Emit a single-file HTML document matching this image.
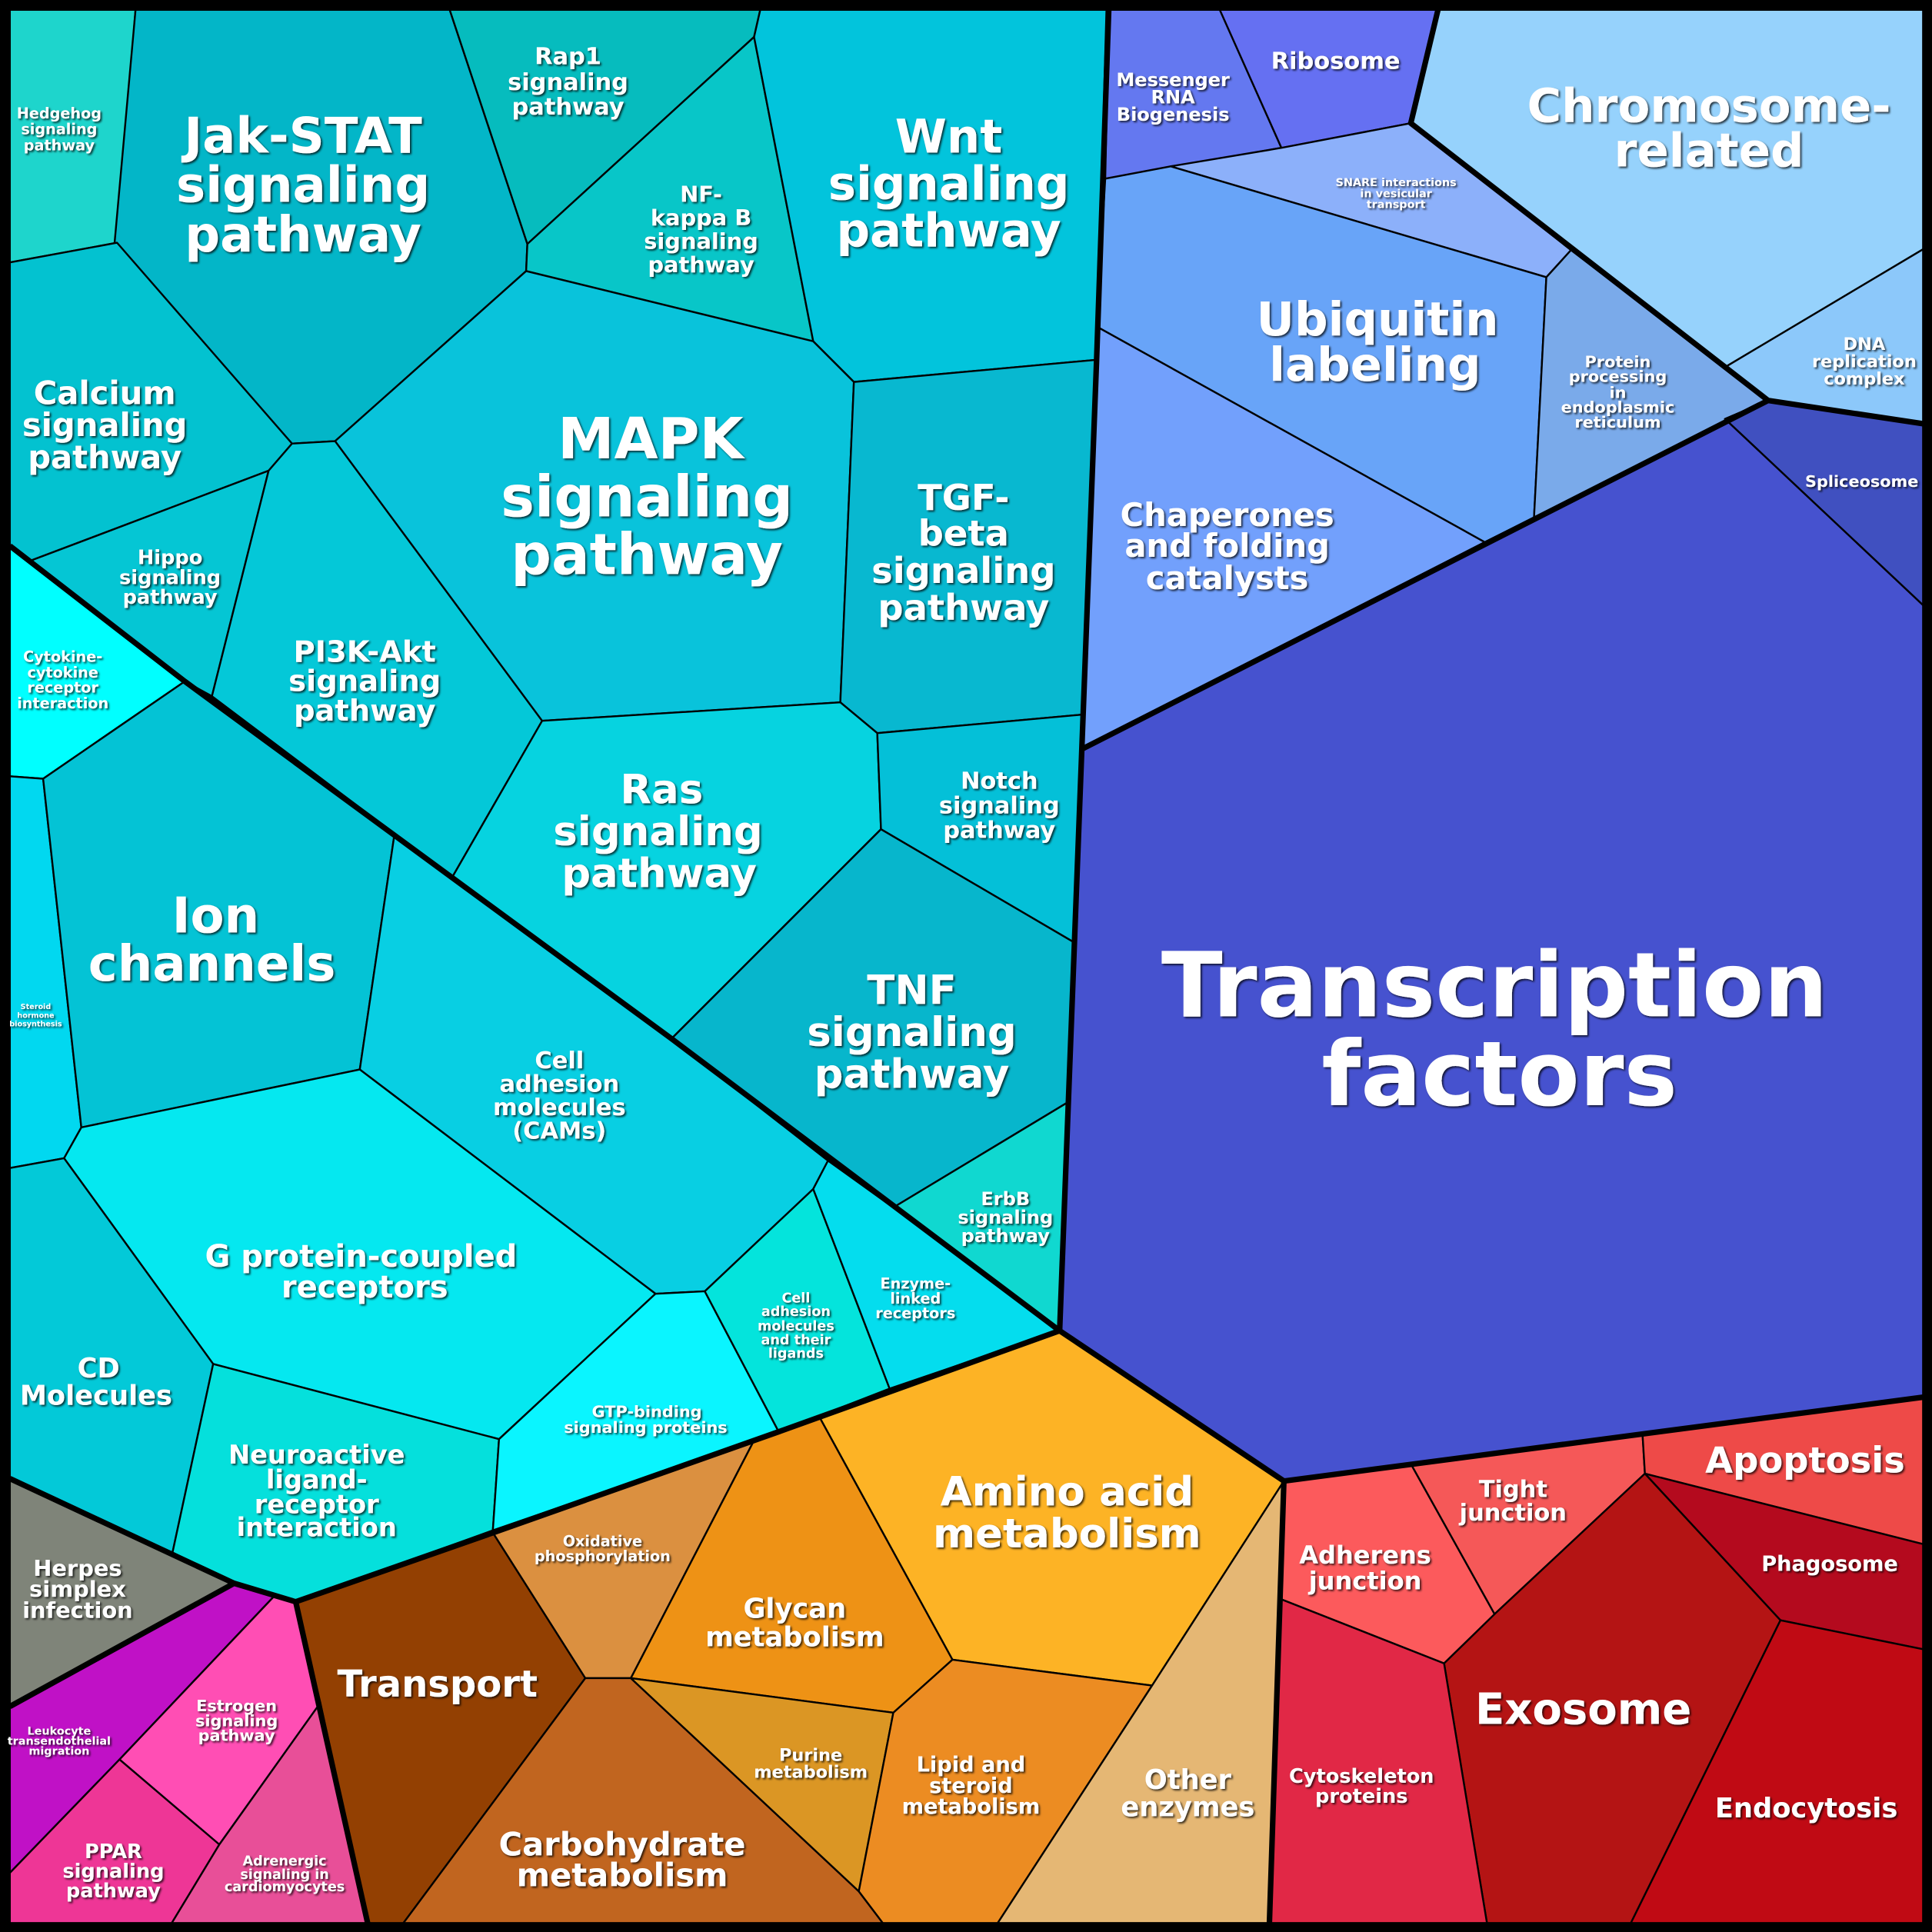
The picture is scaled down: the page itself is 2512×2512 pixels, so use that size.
<!DOCTYPE html>
<html><head><meta charset="utf-8"><style>
html,body{margin:0;padding:0;background:#000;}
svg{display:block;}
text{font-family:"DejaVu Sans","Liberation Sans",sans-serif;font-weight:bold;fill:#fff;text-anchor:middle;}
</style></head><body>
<svg width="2512" height="2512" viewBox="0 0 1568 1568" xmlns="http://www.w3.org/2000/svg">
<defs><filter id="sh" x="-20%" y="-20%" width="140%" height="140%"><feDropShadow dx="1.2" dy="1.2" stdDeviation="0.8" flood-color="#000" flood-opacity="0.75"/></filter></defs>
<rect width="1568" height="1568" fill="#000"/>
<g stroke="#000" stroke-width="1.5" stroke-linejoin="round">
<polygon fill="#1ED5CC" points="8,8 110,8 95,197 8,213"/>
<polygon fill="#03B6C8" points="110,8 365,8 428,198 427,220 272,358 237,360 93,197"/>
<polygon fill="#06BCBE" points="365,8 617,8 612,30 428,198"/>
<polygon fill="#08C6C8" points="612,30 428,198 427,220 660,277"/>
<polygon fill="#02C4DC" points="617,8 898,8 890,292 693,310 660,277 612,30"/>
<polygon fill="#03C2D0" points="8,213 95,197 237,360 218,382 25,455 8,445"/>
<polygon fill="#05C6D4" points="25,455 218,382 172,565 150,553"/>
<polygon fill="#04C8D8" points="218,382 237,360 272,358 440,585 367,712 172,565"/>
<polygon fill="#09C3DB" points="272,358 427,220 660,277 693,310 682,570 440,585"/>
<polygon fill="#08B8D0" points="693,310 890,292 878,580 712,595 682,570"/>
<polygon fill="#06D3E0" points="440,585 682,570 712,595 715,673 545,843 367,712"/>
<polygon fill="#04C0D8" points="712,595 878,580 872,765 715,673"/>
<polygon fill="#07B6CC" points="715,673 872,765 866,895 725,980 545,843"/>
<polygon fill="#10D8D0" points="866,895 860,1080 725,980"/>
<polygon fill="#00FFFF" points="8,443 150,553 35,632 8,630"/>
<polygon fill="#01D8F0" points="8,630 35,632 66,915 52,940 8,948"/>
<polygon fill="#04C3D5" points="35,632 150,553 320,678 292,868 66,915"/>
<polygon fill="#08CFE3" points="320,678 545,843 672,942 660,965 572,1048 532,1050 292,868"/>
<polygon fill="#05E8F0" points="66,915 292,868 532,1050 405,1168 173,1107 52,940"/>
<polygon fill="#03C9D8" points="8,948 52,940 173,1107 140,1260 8,1200"/>
<polygon fill="#05E0DC" points="173,1107 405,1168 400,1242 240,1300 190,1285 140,1260"/>
<polygon fill="#0AF5FF" points="532,1050 572,1048 632,1162 400,1242 405,1168"/>
<polygon fill="#04E4DC" points="572,1048 660,965 722,1127 632,1162"/>
<polygon fill="#04DDEE" points="660,965 672,942 725,980 860,1080 722,1127"/>
<polygon fill="#6478F0" points="900,8 990,8 1040,120 897,145"/>
<polygon fill="#6570F2" points="990,8 1168,8 1145,100 1040,120"/>
<polygon fill="#8CB0FA" points="950,135 1040,120 1145,100 1275,203 1255,225"/>
<polygon fill="#68A4F8" points="897,145 950,135 1255,225 1245,420 1205,440 890,265"/>
<polygon fill="#7AAAEA" points="1255,225 1275,203 1435,325 1245,420"/>
<polygon fill="#72A0FC" points="890,265 1205,440 878,608"/>
<polygon fill="#96D2FC" points="1168,8 1568,8 1568,198 1400,298 1145,100"/>
<polygon fill="#8CC8FA" points="1400,298 1568,198 1568,345 1435,325"/>
<polygon fill="#4050C0" points="1400,340 1435,325 1568,345 1568,498"/>
<polygon fill="#4652CF" points="878,608 1205,440 1245,420 1435,325 1400,340 1568,498 1568,1133 1333,1163 1145,1188 1042,1202 860,1080"/>
<polygon fill="#FDB325" points="860,1080 1042,1202 935,1368 773,1347 665,1150"/>
<polygon fill="#DB9040" points="400,1244 612,1169 512,1362 475,1362"/>
<polygon fill="#EE9215" points="612,1169 665,1150 773,1347 725,1390 512,1362"/>
<polygon fill="#934002" points="240,1300 400,1244 475,1362 322,1568 300,1568"/>
<polygon fill="#C1651F" points="475,1362 512,1362 697,1535 722,1568 322,1568"/>
<polygon fill="#DB9624" points="512,1362 725,1390 697,1535"/>
<polygon fill="#EC8C22" points="725,1390 773,1347 935,1368 805,1568 722,1568 697,1535"/>
<polygon fill="#E5B774" points="935,1368 1042,1202 1030,1568 805,1568"/>
<polygon fill="#FC5A5C" points="1042,1202 1145,1188 1213,1310 1172,1350 1040,1298"/>
<polygon fill="#F55858" points="1145,1188 1333,1163 1335,1196 1213,1310"/>
<polygon fill="#EE4A48" points="1333,1163 1568,1133 1568,1255 1335,1196"/>
<polygon fill="#B40A1E" points="1335,1196 1568,1255 1568,1340 1445,1315"/>
<polygon fill="#B41414" points="1213,1310 1335,1196 1445,1315 1320,1568 1208,1568 1172,1350"/>
<polygon fill="#E12846" points="1040,1298 1172,1350 1208,1568 1030,1568"/>
<polygon fill="#C00A14" points="1445,1315 1568,1340 1568,1568 1320,1568"/>
<polygon fill="#7F8479" points="8,1200 190,1285 8,1385"/>
<polygon fill="#C011C6" points="8,1385 190,1285 222,1296 97,1428 8,1520"/>
<polygon fill="#FF4EB4" points="222,1296 240,1300 260,1382 178,1497 97,1428"/>
<polygon fill="#EE3696" points="8,1520 97,1428 178,1497 135,1568 8,1568"/>
<polygon fill="#E84F98" points="178,1497 260,1382 300,1568 135,1568"/>
</g>
<g stroke="#000" stroke-width="4.5" fill="none" stroke-linejoin="round">
<polyline points="900,4 890,292 878,608 860,1080"/>
<polyline points="8,443 150,553 545,843 860,1080"/>
<polyline points="860,1080 632,1162 400,1244 240,1300 190,1285 8,1200"/>
<polyline points="860,1080 1042,1202 1030,1568"/>
<polyline points="1042,1202 1568,1133"/>
<polyline points="240,1300 300,1568"/>
<polyline points="190,1285 8,1385"/>
<polyline points="1168,4 1145,100 1435,325 1568,345"/>
<polyline points="878,608 1435,325"/>
<rect x="4" y="4" width="1560" height="1560" stroke-width="8"/>
</g>
<g filter="url(#sh)">
<text font-size="12"><tspan x="48" y="96">Hedgehog</tspan><tspan x="48" y="109">signaling</tspan><tspan x="48" y="122">pathway</tspan></text>
<text font-size="40"><tspan x="246" y="124">Jak-STAT</tspan><tspan x="246" y="164">signaling</tspan><tspan x="246" y="204">pathway</tspan></text>
<text font-size="19"><tspan x="461" y="52">Rap1</tspan><tspan x="461" y="73">signaling</tspan><tspan x="461" y="93">pathway</tspan></text>
<text font-size="18"><tspan x="569" y="164">NF-</tspan><tspan x="569" y="183">kappa B</tspan><tspan x="569" y="202">signaling</tspan><tspan x="569" y="221">pathway</tspan></text>
<text font-size="38"><tspan x="770" y="124">Wnt</tspan><tspan x="770" y="162">signaling</tspan><tspan x="770" y="200">pathway</tspan></text>
<text font-size="26"><tspan x="85" y="328">Calcium</tspan><tspan x="85" y="354">signaling</tspan><tspan x="85" y="380">pathway</tspan></text>
<text font-size="16"><tspan x="138" y="458">Hippo</tspan><tspan x="138" y="474">signaling</tspan><tspan x="138" y="490">pathway</tspan></text>
<text font-size="24"><tspan x="296" y="537">PI3K-Akt</tspan><tspan x="296" y="561">signaling</tspan><tspan x="296" y="585">pathway</tspan></text>
<text font-size="46"><tspan x="528" y="372">MAPK</tspan><tspan x="525" y="419">signaling</tspan><tspan x="525" y="466">pathway</tspan></text>
<text font-size="29"><tspan x="782" y="414">TGF-</tspan><tspan x="782" y="443">beta</tspan><tspan x="782" y="473">signaling</tspan><tspan x="782" y="503">pathway</tspan></text>
<text font-size="33"><tspan x="537" y="652">Ras</tspan><tspan x="534" y="686">signaling</tspan><tspan x="535" y="720">pathway</tspan></text>
<text font-size="19"><tspan x="811" y="640">Notch</tspan><tspan x="811" y="660">signaling</tspan><tspan x="811" y="680">pathway</tspan></text>
<text font-size="33"><tspan x="740" y="815">TNF</tspan><tspan x="740" y="849">signaling</tspan><tspan x="740" y="883">pathway</tspan></text>
<text font-size="15"><tspan x="816" y="978">ErbB</tspan><tspan x="816" y="993">signaling</tspan><tspan x="816" y="1008">pathway</tspan></text>
<text font-size="12"><tspan x="51" y="537">Cytokine-</tspan><tspan x="51" y="550">cytokine</tspan><tspan x="51" y="562">receptor</tspan><tspan x="51" y="575">interaction</tspan></text>
<text font-size="6"><tspan x="29" y="819">Steroid</tspan><tspan x="29" y="826">hormone</tspan><tspan x="29" y="833">biosynthesis</tspan></text>
<text font-size="40"><tspan x="175" y="757">Ion</tspan><tspan x="172" y="796">channels</tspan></text>
<text font-size="19"><tspan x="454" y="867">Cell</tspan><tspan x="454" y="886">adhesion</tspan><tspan x="454" y="905">molecules</tspan><tspan x="454" y="924">(CAMs)</tspan></text>
<text font-size="25"><tspan x="293" y="1028">G protein-coupled</tspan><tspan x="296" y="1053">receptors</tspan></text>
<text font-size="22"><tspan x="80" y="1118">CD</tspan><tspan x="78" y="1140">Molecules</tspan></text>
<text font-size="21"><tspan x="257" y="1188">Neuroactive</tspan><tspan x="257" y="1208">ligand-</tspan><tspan x="257" y="1228">receptor</tspan><tspan x="257" y="1247">interaction</tspan></text>
<text font-size="13"><tspan x="525" y="1150">GTP-binding</tspan><tspan x="524" y="1163">signaling proteins</tspan></text>
<text font-size="11"><tspan x="646" y="1057">Cell</tspan><tspan x="646" y="1068">adhesion</tspan><tspan x="646" y="1080">molecules</tspan><tspan x="646" y="1091">and their</tspan><tspan x="646" y="1102">ligands</tspan></text>
<text font-size="12"><tspan x="743" y="1046">Enzyme-</tspan><tspan x="743" y="1058">linked</tspan><tspan x="743" y="1070">receptors</tspan></text>
<text font-size="15"><tspan x="952" y="70">Messenger</tspan><tspan x="952" y="84">RNA</tspan><tspan x="952" y="98">Biogenesis</tspan></text>
<text font-size="19" x="1084" y="56">Ribosome</text>
<text font-size="38"><tspan x="1387" y="99">Chromosome-</tspan><tspan x="1387" y="135">related</tspan></text>
<text font-size="9" font-weight="normal"><tspan x="1133" y="151">SNARE interactions</tspan><tspan x="1133" y="160">in vesicular</tspan><tspan x="1133" y="169">transport</tspan></text>
<text font-size="38"><tspan x="1118" y="272">Ubiquitin</tspan><tspan x="1116" y="309">labeling</tspan></text>
<text font-size="13"><tspan x="1313" y="298">Protein</tspan><tspan x="1313" y="310">processing</tspan><tspan x="1313" y="323">in</tspan><tspan x="1313" y="335">endoplasmic</tspan><tspan x="1313" y="347">reticulum</tspan></text>
<text font-size="14"><tspan x="1513" y="284">DNA</tspan><tspan x="1513" y="298">replication</tspan><tspan x="1513" y="312">complex</tspan></text>
<text font-size="13" x="1511" y="395">Spliceosome</text>
<text font-size="26"><tspan x="996" y="427">Chaperones</tspan><tspan x="996" y="452">and folding</tspan><tspan x="996" y="478">catalysts</tspan></text>
<text font-size="73"><tspan x="1213" y="825">Transcription</tspan><tspan x="1217" y="897">factors</tspan></text>
<text font-size="33"><tspan x="866" y="1222">Amino acid</tspan><tspan x="866" y="1256">metabolism</tspan></text>
<text font-size="12"><tspan x="489" y="1255">Oxidative</tspan><tspan x="489" y="1267">phosphorylation</tspan></text>
<text font-size="22"><tspan x="645" y="1313">Glycan</tspan><tspan x="645" y="1336">metabolism</tspan></text>
<text font-size="30" x="355" y="1377">Transport</text>
<text font-size="26"><tspan x="505" y="1506">Carbohydrate</tspan><tspan x="505" y="1531">metabolism</tspan></text>
<text font-size="14"><tspan x="658" y="1429">Purine</tspan><tspan x="658" y="1443">metabolism</tspan></text>
<text font-size="17"><tspan x="788" y="1438">Lipid and</tspan><tspan x="788" y="1455">steroid</tspan><tspan x="788" y="1472">metabolism</tspan></text>
<text font-size="22"><tspan x="964" y="1452">Other</tspan><tspan x="964" y="1474">enzymes</tspan></text>
<text font-size="20"><tspan x="1108" y="1269">Adherens</tspan><tspan x="1108" y="1290">junction</tspan></text>
<text font-size="19"><tspan x="1228" y="1215">Tight</tspan><tspan x="1228" y="1234">junction</tspan></text>
<text font-size="29" x="1465" y="1195">Apoptosis</text>
<text font-size="17" x="1485" y="1275">Phagosome</text>
<text font-size="35" x="1285" y="1399">Exosome</text>
<text font-size="16"><tspan x="1105" y="1447">Cytoskeleton</tspan><tspan x="1105" y="1463">proteins</tspan></text>
<text font-size="22" x="1466" y="1475">Endocytosis</text>
<text font-size="18"><tspan x="63" y="1279">Herpes</tspan><tspan x="63" y="1296">simplex</tspan><tspan x="63" y="1313">infection</tspan></text>
<text font-size="9"><tspan x="48" y="1408">Leukocyte</tspan><tspan x="48" y="1416">transendothelial</tspan><tspan x="48" y="1424">migration</tspan></text>
<text font-size="13"><tspan x="192" y="1389">Estrogen</tspan><tspan x="192" y="1401">signaling</tspan><tspan x="192" y="1413">pathway</tspan></text>
<text font-size="16"><tspan x="92" y="1508">PPAR</tspan><tspan x="92" y="1524">signaling</tspan><tspan x="92" y="1540">pathway</tspan></text>
<text font-size="11"><tspan x="231" y="1514">Adrenergic</tspan><tspan x="231" y="1525">signaling in</tspan><tspan x="231" y="1535">cardiomyocytes</tspan></text>
</g>
</svg>
</body></html>
